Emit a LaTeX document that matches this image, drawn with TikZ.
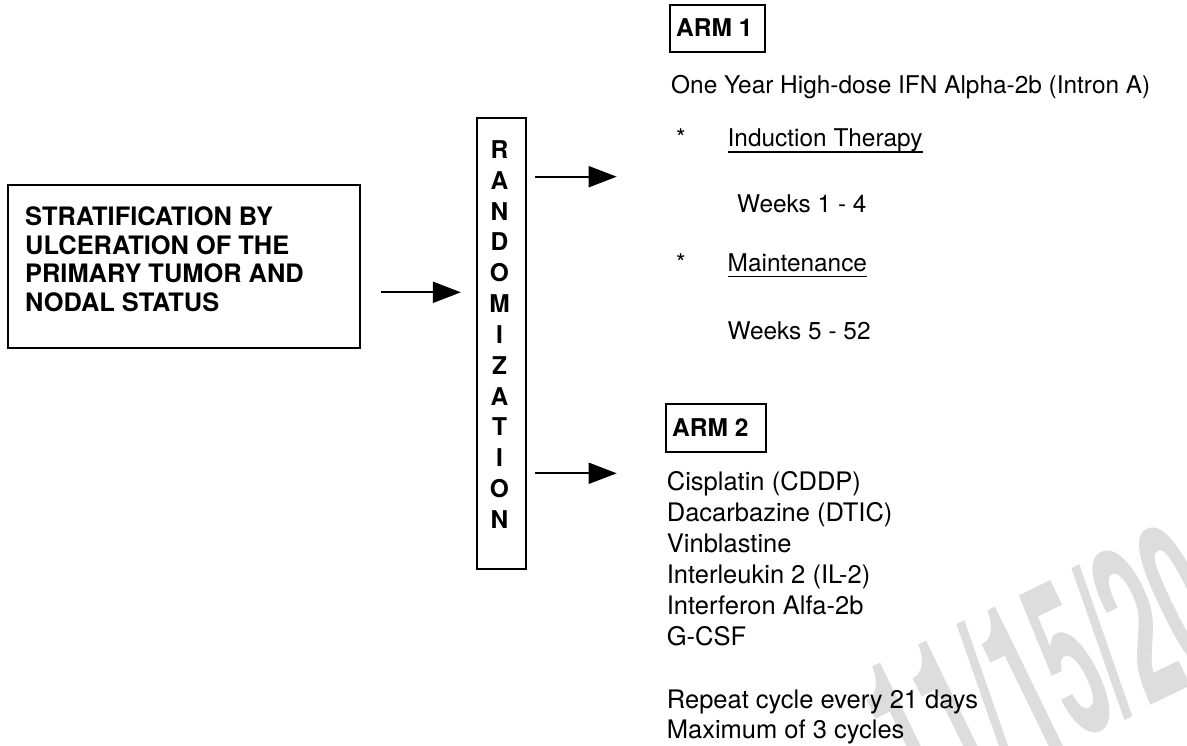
\documentclass[tikz,border=0pt]{standalone}
\usepackage{fontspec}
\setmainfont{TeX Gyre Heros}
\usetikzlibrary{arrows.meta}
\definecolor{wmgray}{RGB}{221,221,221}
\begin{document}
\begin{tikzpicture}[x=1pt,y=-1pt,
  txt/.style={inner sep=0pt, anchor=base west, font=\fontsize{24.4}{29}\selectfont},
  txtc/.style={inner sep=0pt, anchor=base west, font=\fontsize{25.5}{31}\selectfont},
  txtb/.style={inner sep=0pt, anchor=base west, font=\fontsize{25.4}{29}\selectfont\bfseries},
  lblb/.style={inner sep=0pt, anchor=base west, font=\fontsize{24.5}{29}\selectfont\bfseries},
  letter/.style={inner sep=0pt, anchor=base, font=\fontsize{24.5}{29}\selectfont\bfseries},
  frame/.style={draw, line width=2.2pt, inner sep=0pt},
  arr/.style={line width=1.8pt, -{Triangle[length=28pt,width=21pt]}},
  ul/.style={line width=1.5pt}]
\useasboundingbox (0,0) rectangle (1187,746);
% watermark
\begin{scope}
\clip (0,0) rectangle (1187,746);
\node[inner sep=0pt, anchor=base west, rotate=26, text=wmgray,
      font=\fontsize{220}{220}\selectfont\bfseries] (wm) at (917,819)
      {\scalebox{0.42}[1]{11/15/20}};
\end{scope}
% stratification box
\node[frame, minimum width=352pt, minimum height=163pt] (strat) at (184,266.5) {};
\node[txtb] (s1) at (25,226) {STRATIFICATION BY};
\node[txtb] (s2) at (25,254.5) {ULCERATION OF THE};
\node[txtb] (s3) at (25,283) {PRIMARY TUMOR AND};
\node[txtb] (s4) at (25,311.5) {NODAL STATUS};
% randomization box
\node[frame, minimum width=49.3pt, minimum height=450.7pt] (rand) at (501.35,343.65) {};
\foreach \l [count=\i from 0] in {R,A,N,D,O,M,I,Z,A,T,I,O,N}
  \node[letter] (r\i) at (499.5,{158.6+30.8*\i}) {\l};
% arrows
\coordinate (t1) at (616.7,176.7);
\coordinate (t2) at (616.7,473.3);
\draw[arr, shorten <=20pt, shorten >=14.7pt] (strat.east |- 0,292.3) -- (rand.west |- 0,292.3);
\draw[arr, shorten <=8.3pt] (rand.east |- t1) -- (t1);
\draw[arr, shorten <=8.3pt] (rand.east |- t2) -- (t2);
% ARM 1
\node[frame, minimum width=95pt, minimum height=46.7pt] (arm1box) at (717.5,28.35) {};
\node[lblb] (arm1) at (676,36.8) {ARM 1};
\node[txt] (a1l1) at (671,94) {One Year High-dose IFN Alpha-2b (Intron A)};
\node[txt] (star1) at (676,147) {*};
\node[txt] (ind) at (727.5,147) {Induction Therapy};
\draw[ul] ([yshift=-5pt]ind.base west) -- ([yshift=-5pt]ind.base east);
\node[txt] (wk1) at (737,213) {Weeks 1 - 4};
\node[txt] (star2) at (676,271.5) {*};
\node[txt] (mnt) at (727.5,271.5) {Maintenance};
\draw[ul] ([yshift=-5pt]mnt.base west) -- ([yshift=-5pt]mnt.base east);
\node[txt] (wk2) at (727.5,339) {Weeks 5 - 52};
% ARM 2
\node[frame, minimum width=100pt, minimum height=47.7pt] (arm2box) at (716,427.85) {};
\node[lblb] (arm2) at (672,436.6) {ARM 2};
\node[txtc] (c1) at (666.7,490.8) {Cisplatin (CDDP)};
\node[txtc] (c2) at (666.7,521.8) {Dacarbazine (DTIC)};
\node[txtc] (c3) at (666.7,552.8) {Vinblastine};
\node[txtc] (c4) at (666.7,583.8) {Interleukin 2 (IL-2)};
\node[txtc] (c5) at (666.7,614.8) {Interferon Alfa-2b};
\node[txtc] (c6) at (666.7,645.8) {G-CSF};
\node[txtc] (c7) at (666.7,708.5) {Repeat cycle every 21 days};
\node[txtc] (c8) at (666.7,738.5) {Maximum of 3 cycles};
\end{tikzpicture}
\end{document}
